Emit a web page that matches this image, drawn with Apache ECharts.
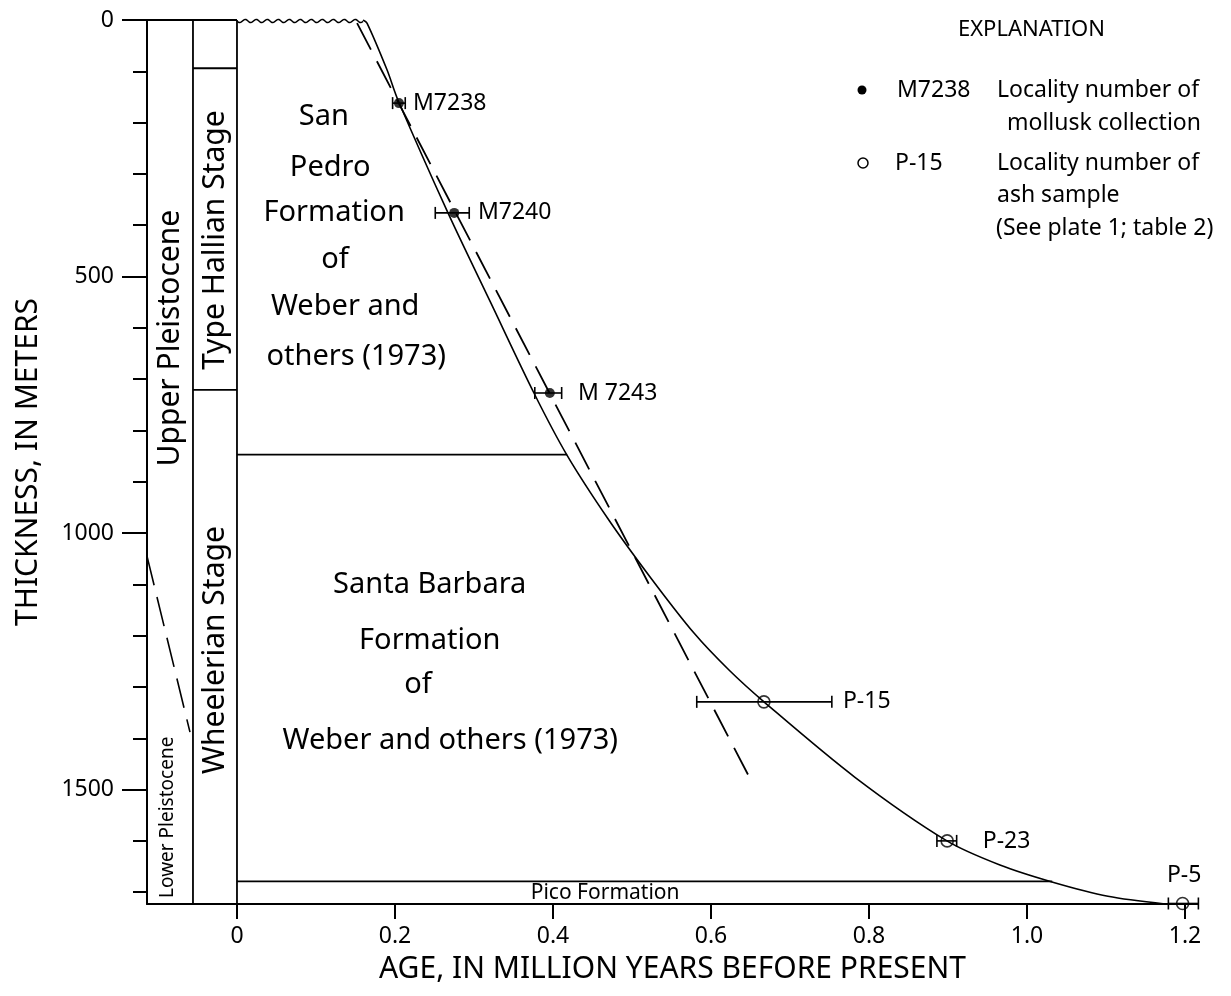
<!DOCTYPE html>
<html>
<head>
<meta charset="utf-8">
<script src="https://cdn.jsdelivr.net/npm/echarts@6/dist/echarts.min.js"></script>
<style>html,body{margin:0;padding:0;background:#fff}#c{width:1231px;height:996px}</style>
</head>
<body>
<div id="c"></div>
<script>
// ---------- data ----------
const xTicks = [0, 0.2, 0.4, 0.6, 0.8, 1.0, 1.2];
const yMinorTicks = [0,100,200,300,400,500,600,700,800,900,1000,1100,1200,1300,1400,1500,1600,1700];
const yMajorTicks = [0, 500, 1000, 1500];

// solid age-thickness curve
const curveAge   = [0.1595,0.1646,0.1899,0.2038,0.2671,0.3215,0.3759,0.4177,0.4709,0.5241,0.5785,0.6228,0.6671,0.7823,0.8987,0.9658,1.0316,1.1025,1.1747];
const curveDepth = [0,     6,     97,    156,   376,   552,   727,   848,   975,   1088,  1195,  1267,  1329,  1476,  1600,  1647,  1680,  1708,  1723];

// dashed straight line
const dashAge   = [0.152, 0.651];
const dashDepth = [6, 1483];

// dashed Upper/Lower Pleistocene boundary
const pleistAge   = [-0.1139, -0.0595];
const pleistDepth = [1045, 1388];

// column / formation boundary segments [age1, depth1, age2, depth2]
const boundarySegments = [
  [-0.1139, 0, 0, 0],
  [-0.0557, 0, -0.0557, 1723],
  [0, 0, 0, 1723],
  [-0.0557, 94, 0, 94],
  [-0.0557, 721, 0, 721],
  [0, 847, 0.418, 847],
  [0, 1679, 1.032, 1679]
];
// unconformity (wavy) [ageStart, ageEnd, depth]
const unconformity = [0, 0.160, 0];

// mollusk collections
const molluskName  = ['M7238', 'M7240', 'M7243'];
const molluskAge   = [0.205, 0.275, 0.396];
const molluskDepth = [162, 376, 727];
const molluskLo    = [0.197, 0.251, 0.377];
const molluskHi    = [0.213, 0.294, 0.411];

// ash samples
const ashName  = ['P-15', 'P-23', 'P-5'];
const ashAge   = [0.667, 0.899, 1.197];
const ashDepth = [1329, 1600, 1722];
const ashLo    = [0.582, 0.886, 1.179];
const ashHi    = [0.753, 0.911, 1.217];

// point labels
const ptLabelText  = ['M7238', 'M7240', 'M 7243', 'P-15', 'P-23'];
const ptLabelAge   = [0.2228, 0.305, 0.4316, 0.767, 0.944];
const ptLabelDepth = [162, 376, 727, 1329, 1602];
const p5LabelText = 'P-5', p5LabelAge = 1.199, p5LabelDepth = 1667;

// formation labels
const formationText  = ['San','Pedro','Formation','of','Weber and','others (1973)','Santa Barbara','Formation','of','Weber and others (1973)'];
const formationAge   = [0.110, 0.118, 0.123, 0.124, 0.137, 0.151, 0.244, 0.244, 0.229, 0.270];
const formationDepth = [189, 287, 376, 468, 559, 657, 1101, 1209, 1296, 1404];

// stage / series labels (vertical)
const stageText  = ['Upper Pleistocene', 'Type Hallian Stage', 'Wheelerian Stage'];
const stageAge   = [-0.0848, -0.0278, -0.0278];
const stageDepth = [620, 429, 1228];
const lowerText = 'Lower Pleistocene', lowerAge = -0.0873, lowerDepth = 1554;
const picoText = 'Pico Formation', picoAge = 0.466, picoDepth = 1702;

// ---------- chart ----------
const FONT = '"Noto Sans", sans-serif';
const X_MIN = -0.1139, X_MAX = 1.2165, Y_MAX = 1723;
const chart = echarts.init(document.getElementById('c'), null, {renderer: 'canvas'});

const zip = (a, b) => a.map((v, i) => [v, b[i]]);

const segSeries = boundarySegments.map(s => ({
  type: 'line', data: [[s[0], s[1]], [s[2], s[3]]], symbol: 'none', silent: true,
  lineStyle: {color: '#000', width: 1.8}, z: 2, animation: false
}));

function errBarItem(params, api) {
  const d = api.value(1);
  const p = api.coord([api.value(2), d]);
  const q = api.coord([api.value(3), d]);
  const h = 6;
  const st = {stroke: '#000', lineWidth: 1.6};
  return {type: 'group', children: [
    {type: 'line', shape: {x1: p[0], y1: p[1], x2: q[0], y2: q[1]}, style: st},
    {type: 'line', shape: {x1: p[0], y1: p[1]-h, x2: p[0], y2: p[1]+h}, style: st},
    {type: 'line', shape: {x1: q[0], y1: q[1]-h, x2: q[0], y2: q[1]+h}, style: st}
  ]};
}

function textSeries(data, label) {
  return {type: 'scatter', symbolSize: 1, silent: true, z: 10, animation: false,
    itemStyle: {color: 'rgba(0,0,0,0)'},
    data: data,
    label: Object.assign({show: true, formatter: '{b}', color: '#000', fontFamily: FONT,
      textBorderWidth: 0, textBorderColor: 'rgba(0,0,0,0)', opacity: 1}, label)};
}

const option = {
  animation: false,
  backgroundColor: '#fff',
  grid: {left: 147, right: 33, top: 20, bottom: 92, containLabel: false},
  xAxis: {
    type: 'value', min: X_MIN, max: X_MAX,
    axisLine: {show: true, onZero: false, lineStyle: {color: '#000', width: 2}},
    axisTick: {show: true, customValues: xTicks, length: 15, lineStyle: {color: '#000', width: 2}},
    axisLabel: {show: true, customValues: xTicks, margin: 21, fontSize: 23, color: '#000', fontFamily: FONT,
      formatter: v => (Math.abs(v) < 1e-9 ? '0' : v.toFixed(1))},
    splitLine: {show: false},
    name: 'AGE, IN MILLION YEARS BEFORE PRESENT', nameLocation: 'middle', nameGap: 50,
    nameTextStyle: {fontSize: 30, color: '#000', fontFamily: FONT}
  },
  yAxis: [{
    type: 'value', min: 0, max: Y_MAX, inverse: true, position: 'left',
    axisLine: {show: true, onZero: false, lineStyle: {color: '#000', width: 2}},
    axisTick: {show: true, customValues: yMinorTicks, length: 14, lineStyle: {color: '#000', width: 2}},
    axisLabel: {show: true, customValues: yMajorTicks, margin: 33, fontSize: 23, color: '#000', fontFamily: FONT,
      formatter: v => String(v)},
    splitLine: {show: false},
    name: 'THICKNESS, IN METERS', nameLocation: 'middle', nameGap: 104, nameRotate: 90,
    nameTextStyle: {fontSize: 30, color: '#000', fontFamily: FONT}
  }, {
    type: 'value', min: 0, max: Y_MAX, inverse: true, position: 'left', offset: 0,
    axisLine: {show: false, onZero: false},
    axisTick: {show: true, customValues: yMajorTicks, length: 25, lineStyle: {color: '#000', width: 2}},
    axisLabel: {show: false}, splitLine: {show: false}
  }],
  graphic: [
    {type: 'text', x: 958, y: 30, style: {text: 'EXPLANATION', fontSize: 22, fontFamily: FONT, fill: '#000', align: 'left', verticalAlign: 'middle'}},
    {type: 'circle', x: 862, y: 90, shape: {r: 4.5}, style: {fill: '#000'}},
    {type: 'text', x: 897, y: 90, style: {text: molluskName[0], fontSize: 23, fontFamily: FONT, fill: '#000', align: 'left', verticalAlign: 'middle'}},
    {type: 'text', x: 997, y: 90, style: {text: 'Locality number of', fontSize: 23, fontFamily: FONT, fill: '#000', align: 'left', verticalAlign: 'middle'}},
    {type: 'text', x: 1007, y: 123, style: {text: 'mollusk collection', fontSize: 23, fontFamily: FONT, fill: '#000', align: 'left', verticalAlign: 'middle'}},
    {type: 'circle', x: 863, y: 163, shape: {r: 5}, style: {fill: 'none', stroke: '#000', lineWidth: 1.5}},
    {type: 'text', x: 895, y: 163, style: {text: ashName[0], fontSize: 23, fontFamily: FONT, fill: '#000', align: 'left', verticalAlign: 'middle'}},
    {type: 'text', x: 997, y: 163, style: {text: 'Locality number of', fontSize: 23, fontFamily: FONT, fill: '#000', align: 'left', verticalAlign: 'middle'}},
    {type: 'text', x: 997, y: 195, style: {text: 'ash sample', fontSize: 23, fontFamily: FONT, fill: '#000', align: 'left', verticalAlign: 'middle'}},
    {type: 'text', x: 996, y: 228, style: {text: '(See plate 1; table 2)', fontSize: 23, fontFamily: FONT, fill: '#000', align: 'left', verticalAlign: 'middle'}}
  ],
  series: [
    ...segSeries,
    {type: 'line', data: zip(pleistAge, pleistDepth), symbol: 'none', silent: true,
      lineStyle: {color: '#000', width: 1.6, type: [30, 12]}, z: 2},
    {type: 'line', data: zip(dashAge, dashDepth), symbol: 'none', silent: true,
      lineStyle: {color: '#000', width: 1.8, type: [30, 13]}, z: 3},
    {type: 'line', data: zip(curveAge, curveDepth), symbol: 'none', silent: true, smooth: 0.3,
      lineStyle: {color: '#000', width: 1.6}, z: 3},
    {type: 'custom', silent: true, z: 3, clip: false, data: [unconformity],
      renderItem: (params, api) => {
        const p0 = api.coord([api.value(0), api.value(2)]);
        const p1 = api.coord([api.value(1), api.value(2)]);
        const pts = [];
        for (let x = p0[0]; x <= p1[0]; x += 1) pts.push([x, p0[1] + 1 + 1.6 * Math.sin((x - p0[0]) / 11 * 2 * Math.PI)]);
        return {type: 'polyline', shape: {points: pts}, style: {stroke: '#000', lineWidth: 1.5, fill: null}};
      }},
    {type: 'custom', silent: true, z: 4, clip: false, renderItem: errBarItem,
      data: molluskAge.map((a, i) => [a, molluskDepth[i], molluskLo[i], molluskHi[i]])},
    {type: 'custom', silent: true, z: 4, clip: false, renderItem: errBarItem,
      data: ashAge.map((a, i) => [a, ashDepth[i], ashLo[i], ashHi[i]])},
    {type: 'scatter', silent: true, z: 5, clip: false, symbol: 'circle', symbolSize: 10,
      itemStyle: {color: '#000'}, data: zip(molluskAge, molluskDepth)},
    {type: 'scatter', silent: true, z: 5, clip: false, symbol: 'circle', symbolSize: 12,
      itemStyle: {color: 'rgba(255,255,255,0)', borderColor: '#000', borderWidth: 1.6}, data: zip(ashAge, ashDepth)},
    textSeries(ptLabelText.map((t, i) => ({name: t, value: [ptLabelAge[i], ptLabelDepth[i]]})),
      {position: 'inside', align: 'left', verticalAlign: 'middle', fontSize: 23}),
    textSeries([{name: p5LabelText, value: [p5LabelAge, p5LabelDepth]}],
      {position: 'inside', align: 'center', verticalAlign: 'middle', fontSize: 23}),
    textSeries(formationText.map((t, i) => ({name: t, value: [formationAge[i], formationDepth[i]]})),
      {position: 'inside', align: 'center', verticalAlign: 'middle', fontSize: 29}),
    textSeries(stageText.map((t, i) => ({name: t, value: [stageAge[i], stageDepth[i]]})),
      {position: 'inside', align: 'center', verticalAlign: 'middle', fontSize: 30, rotate: 90}),
    textSeries([{name: lowerText, value: [lowerAge, lowerDepth]}],
      {position: 'inside', align: 'center', verticalAlign: 'middle', fontSize: 19, rotate: 90}),
    textSeries([{name: picoText, value: [picoAge, picoDepth]}],
      {position: 'inside', align: 'center', verticalAlign: 'middle', fontSize: 21})
  ]
};
chart.setOption(option);
</script>
</body>
</html>
